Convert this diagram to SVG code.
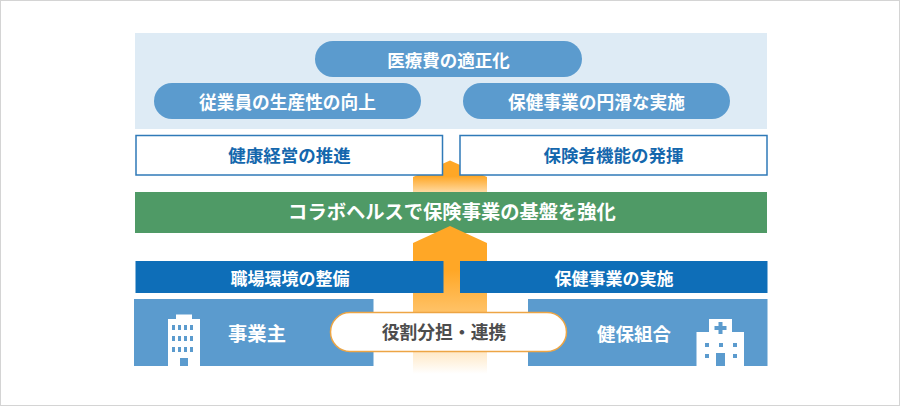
<svg xmlns="http://www.w3.org/2000/svg" width="900" height="406" viewBox="0 0 900 406">
<style>
text{font-family:"Noto Sans CJK JP","Noto Sans",sans-serif;font-weight:700;text-anchor:middle}
.w{fill:#fff}.pill{fill:#5b9bce}.box{fill:#fff;stroke:#2f7ab8;stroke-width:1.5}.blue{fill:#0e6eb8}.mid{fill:#5b9bce}
</style>
<defs>
<linearGradient id="g1" x1="0" y1="0" x2="0" y2="1"><stop offset="0" stop-color="#ffa726"/><stop offset="0.5" stop-color="#ffa726"/><stop offset="1" stop-color="#ffd9a0"/></linearGradient>
<linearGradient id="g2" gradientUnits="userSpaceOnUse" x1="0" y1="226" x2="0" y2="374"><stop offset="0" stop-color="#ffa726"/><stop offset="0.3" stop-color="#ffa726"/><stop offset="0.62" stop-color="#ffc670"/><stop offset="1" stop-color="#ffffff"/></linearGradient>
</defs>
<rect x="0.5" y="0.5" width="899" height="405" fill="#fff" stroke="#d4d4d4"/>
<g id="panel"><rect x="135" y="33" width="632" height="96" fill="#deebf5"/></g>
<g id="n6"><rect x="135" y="192" width="632" height="41" fill="#4f9a66"/><text class="w" x="452" y="219" font-size="19.300">コラボヘルスで保険事業の基盤を強化</text></g>
<g id="connectors">
<path d="M450 160.500L487 177V192H413V177Z" fill="url(#g1)"/>
<path d="M450 226L487 243V374H413V243Z" fill="url(#g2)"/>
</g>
<g id="n1"><rect class="pill" x="315" y="41" width="267" height="36" rx="18"/><text class="w" x="448.500" y="67" font-size="17.500">医療費の適正化</text></g>
<g id="n2"><rect class="pill" x="154" y="83" width="267" height="36" rx="18"/><text class="w" x="287.500" y="109" font-size="17.700">従業員の生産性の向上</text></g>
<g id="n3"><rect class="pill" x="463" y="83" width="267" height="36" rx="18"/><text class="w" x="596.500" y="109" font-size="17.700">保健事業の円滑な実施</text></g>
<g id="n4"><rect class="box" x="136" y="135.500" width="306.500" height="39.500"/><text x="289.500" y="162" font-size="17.500" fill="#1467ad">健康経営の推進</text></g>
<g id="n5"><rect class="box" x="460" y="135.500" width="307" height="39.500"/><text x="613.500" y="162" font-size="17.500" fill="#1467ad">保険者機能の発揮</text></g>
<g id="n7"><rect class="blue" x="135.500" y="261" width="308" height="32"/><text class="w" x="290" y="285" font-size="17">職場環境の整備</text></g>
<g id="n8"><rect class="blue" x="460" y="261" width="307.500" height="32"/><text class="w" x="614" y="285" font-size="17">保健事業の実施</text></g>
<g id="n9"><rect class="mid" x="134" y="299" width="239.500" height="67"/>
<path class="w" d="M168 319H176V314.500H192V319H200V366H168Z"/>
<g fill="#5b9bce"><rect x="172" y="325" width="3" height="5"/><rect x="178" y="325" width="3" height="5"/><rect x="184" y="325" width="3" height="5"/><rect x="190" y="325" width="3" height="5"/><rect x="172" y="336" width="3" height="5"/><rect x="178" y="336" width="3" height="5"/><rect x="184" y="336" width="3" height="5"/><rect x="190" y="336" width="3" height="5"/><rect x="172" y="347" width="3" height="5"/><rect x="178" y="347" width="3" height="5"/><rect x="184" y="347" width="3" height="5"/><rect x="190" y="347" width="3" height="5"/><rect x="180" y="358" width="8" height="8"/></g>
<text class="w" x="257" y="341" font-size="19.300">事業主</text></g>
<g id="n10"><rect class="mid" x="528" y="299" width="239.500" height="67"/>
<path class="w" d="M696.500 332H709V319H732V332H744V366H696.500Z"/>
<g fill="#5b9bce"><path d="M718.500 322H722.500V326H726.500V330H722.500V334H718.500V330H714.500V326H718.500Z"/><rect x="705" y="343" width="4" height="4"/><rect x="719" y="343" width="4" height="4"/><rect x="733" y="343" width="4" height="4"/><rect x="705" y="354" width="4" height="4"/><rect x="733" y="354" width="4" height="4"/><rect x="716" y="353" width="9" height="13"/></g>
<text class="w" x="634" y="341" font-size="18.500">健保組合</text></g>
<g id="n11"><rect x="330.500" y="312.500" width="236" height="39" rx="19.500" fill="#fff" stroke="#eda544" stroke-width="1.500"/><text x="444" y="339" font-size="17.800" fill="#4d4d4d">役割分担・連携</text></g>
</svg>
